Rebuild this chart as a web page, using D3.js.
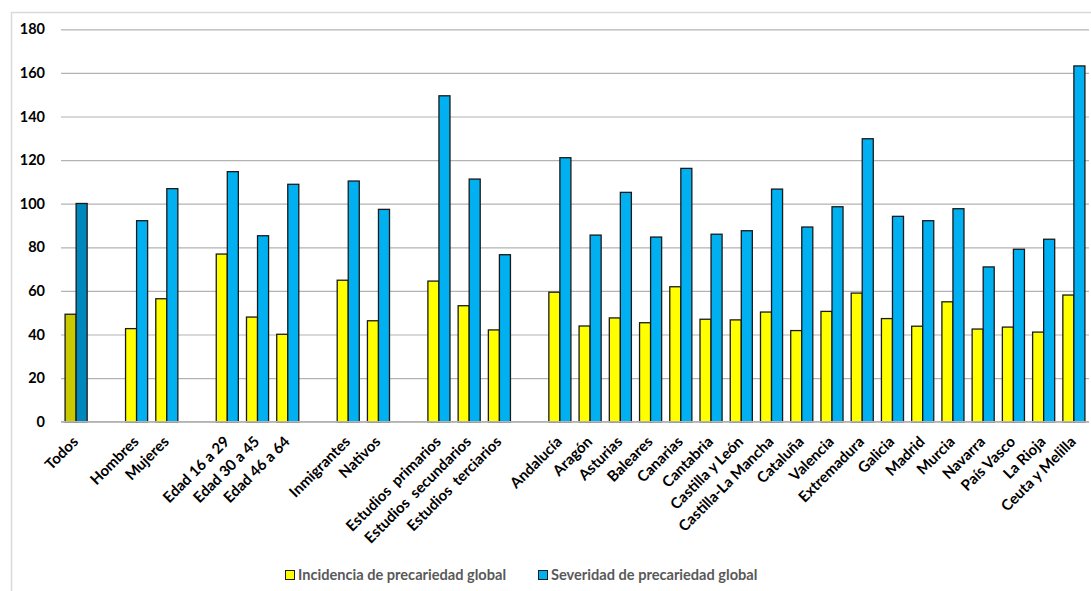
<!DOCTYPE html>
<html>
<head>
<meta charset="utf-8">
<script src="https://cdn.jsdelivr.net/npm/d3@7"></script>
<style>
  html, body { margin: 0; padding: 0; background: #fff; }
  svg { display: block; }
  text { font-family: Lato, "Open Sans", sans-serif; }
</style>
</head>
<body>
<svg id="chart" width="1091" height="591"></svg>
<script>
// ---- data ----
const categories = [
  "Todos", "", "Hombres", "Mujeres", "", "Edad 16 a 29", "Edad 30 a 45", "Edad 46 a 64", "",
  "Inmigrantes", "Nativos", "", "Estudios  primarios", "Estudios  secundarios", "Estudios  terciarios", "",
  "Andalucía", "Aragón", "Asturias", "Baleares", "Canarias", "Cantabria", "Castilla y León",
  "Castilla-La Mancha", "Cataluña", "Valencia", "Extremadura", "Galicia", "Madrid", "Murcia",
  "Navarra", "País Vasco", "La Rioja", "Ceuta y Melilla"
];
const incidencia = [
  49.3, null, 42.7, 56.4, null, 76.9, 48.0, 40.1, null,
  64.9, 46.3, null, 64.5, 53.2, 42.1, null,
  59.4, 43.9, 47.6, 45.4, 61.9, 47.0, 46.7,
  50.3, 41.8, 50.6, 59.0, 47.3, 43.8, 55.0,
  42.5, 43.4, 41.1, 58.1
];
const severidad = [
  100.1, null, 92.2, 106.9, null, 114.7, 85.3, 108.9, null,
  110.4, 97.4, null, 149.5, 111.3, 76.6, null,
  121.1, 85.6, 105.2, 84.7, 116.2, 86.0, 87.6,
  106.7, 89.3, 98.6, 129.8, 94.2, 92.2, 97.7,
  71.0, 79.1, 83.7, 163.2
];
const seriesNames = ["Incidencia de precariedad global", "Severidad de precariedad global"];
const yTicks = [0, 20, 40, 60, 80, 100, 120, 140, 160, 180];

// ---- layout ----
const svg = d3.select("#chart");
const pLeft = 61, pRight = 1089, pTop = 29.3, pBottom = 421.7;
const colors = ["#ffff00", "#00b0f0"];
const todosColors = ["#c9c900", "#0088bd"];

// frame
svg.append("rect")
  .attr("x", 11.5).attr("y", 12.5).attr("width", 1100).attr("height", 600)
  .attr("fill", "none").attr("stroke", "#d9d9d9").attr("stroke-width", 1.5);

const keys = categories.map((c, i) => "k" + i);
const x0 = d3.scaleBand().domain(keys).range([pLeft, pRight]).paddingInner(0.27).paddingOuter(0.135);
const x1 = d3.scaleBand().domain([0, 1]).range([0, x0.bandwidth()]);
const y = d3.scaleLinear().domain([0, 180]).range([pBottom, pTop]);

// gridlines
const yAxis = d3.axisLeft(y).tickValues(yTicks).tickSize(-(pRight - pLeft)).tickPadding(16);
const gy = svg.append("g").attr("transform", `translate(${pLeft},0)`).call(yAxis);
gy.select(".domain").remove();
gy.selectAll(".tick line").attr("stroke", "#b3b3b3").attr("stroke-width", 1.2);
gy.selectAll(".tick text")
  .attr("font-size", 14.5).attr("font-weight", "bold").attr("fill", "#000")
  .attr("font-family", "Lato, sans-serif");

// bars
const rows = categories.map((c, i) => ({ key: keys[i], i, vals: [incidencia[i], severidad[i]] }));
const groups = svg.append("g").selectAll("g").data(rows).join("g")
  .attr("transform", d => `translate(${x0(d.key)},0)`);
groups.selectAll("rect")
  .data(d => d.vals.map((v, s) => ({ v, s, i: d.i })).filter(e => e.v != null))
  .join("rect")
  .attr("x", e => x1(e.s))
  .attr("width", x1.bandwidth())
  .attr("y", e => y(e.v))
  .attr("height", e => y(0) - y(e.v))
  .attr("fill", e => e.i === 0 ? todosColors[e.s] : colors[e.s])
  .attr("stroke", "#1a1a1a")
  .attr("stroke-width", 1.3);

// baseline
svg.append("line")
  .attr("x1", pLeft).attr("x2", pRight).attr("y1", y(0)).attr("y2", y(0))
  .attr("stroke", "#b3b3b3").attr("stroke-width", 1.5);

// x labels
const xAxis = d3.axisBottom(x0).tickSize(0).tickFormat((k, i) => categories[i]);
const gx = svg.append("g").attr("transform", `translate(0,${y(0)})`).call(xAxis);
gx.select(".domain").remove();
gx.selectAll(".tick text")
  .attr("font-size", 15).attr("font-weight", "bold").attr("fill", "#000")
  .attr("font-family", "Lato, sans-serif")
  .attr("text-anchor", "end")
  .attr("dy", 0)
  .attr("y", 0)
  .attr("transform", "translate(3,21) rotate(-45)")
  .style("white-space", "pre");

// legend
const legendX = [285, 538];
const lg = svg.append("g").selectAll("g").data(seriesNames).join("g")
  .attr("transform", (d, i) => `translate(${legendX[i]},570)`);
lg.append("rect").attr("x", 0.5).attr("y", 0.5).attr("width", 9).attr("height", 9)
  .attr("fill", (d, i) => colors[i]).attr("stroke", "#1a1a1a").attr("stroke-width", 1);
lg.append("text").attr("x", 13).attr("y", 10)
  .attr("font-size", 14.6).attr("font-weight", "bold").attr("fill", "#595959")
  .attr("font-family", "Lato, sans-serif")
  .text(d => d);
</script>
</body>
</html>
